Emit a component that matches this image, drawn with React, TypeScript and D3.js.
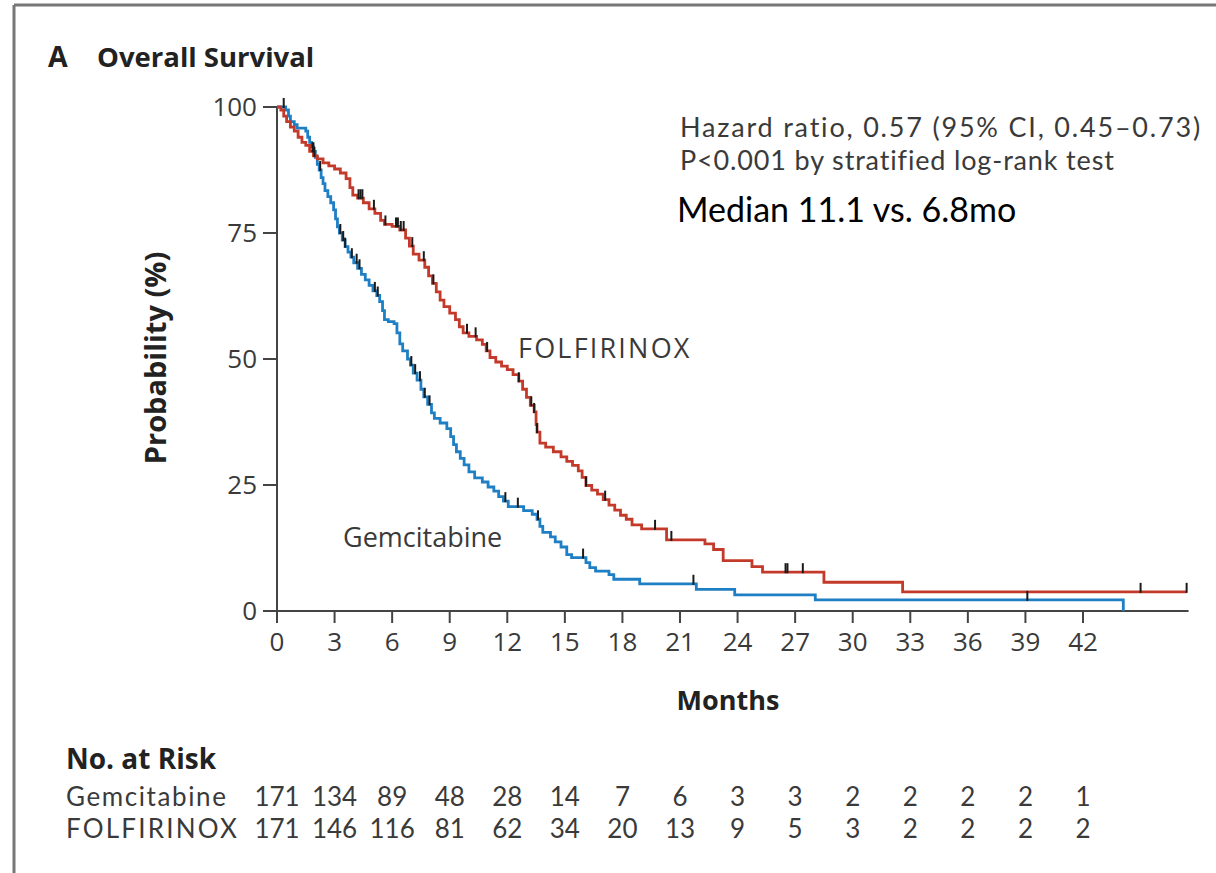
import React, { useEffect } from 'react';
import * as d3 from 'd3';

// Kaplan–Meier overall survival, FOLFIRINOX vs. gemcitabine.
const monthTicks = [0, 3, 6, 9, 12, 15, 18, 21, 24, 27, 30, 33, 36, 39, 42];
const probTicks = [0, 25, 50, 75, 100];

// [month, survival %] at each step of the curve
const folfirinoxSteps: [number, number][] = [
  [0, 100], [0.2, 99.4], [0.35, 98.2], [0.5, 97.1], [0.7, 96.0], [0.9, 95.2],
  [1.1, 94.0], [1.3, 93.0], [1.5, 92.4], [1.7, 91.2], [1.9, 90.3], [2.1, 89.7],
  [2.4, 88.9], [2.7, 88.3], [3.0, 87.7], [3.3, 86.9], [3.6, 85.8], [3.8, 84.0],
  [3.95, 82.5], [4.2, 81.9], [4.5, 81.0], [4.8, 79.8], [5.1, 78.9], [5.4, 77.5],
  [5.6, 76.7], [6.0, 76.3], [6.4, 75.6], [6.7, 74.0], [6.9, 72.4], [7.1, 70.8],
  [7.4, 69.6], [7.7, 68.2], [7.9, 66.5], [8.1, 65.0], [8.3, 63.3], [8.5, 61.7],
  [8.7, 60.4], [9.0, 59.1], [9.3, 57.8], [9.5, 56.4], [9.7, 55.2], [10.0, 54.5],
  [10.4, 53.8], [10.7, 52.9], [10.9, 51.6], [11.1, 50.3], [11.4, 49.4], [11.7, 48.6],
  [12.0, 47.9], [12.3, 46.9], [12.6, 45.6], [12.8, 44.0], [13.0, 42.4], [13.2, 40.8],
  [13.4, 39.5], [13.5, 37.0], [13.55, 35.5], [13.7, 33.3], [14.0, 32.5], [14.4, 31.6],
  [14.8, 30.6], [15.1, 29.7], [15.4, 28.9], [15.7, 27.8], [15.9, 26.5], [16.1, 24.9],
  [16.4, 24.0], [16.7, 23.2], [17.0, 22.1], [17.3, 21.0], [17.6, 20.0], [17.9, 19.0],
  [18.2, 18.2], [18.5, 17.1], [19.0, 16.3], [20.3, 14.1], [22.3, 13.3], [22.75, 12.2],
  [23.25, 10.0], [24.75, 8.8], [25.3, 7.7], [28.5, 5.7], [32.6, 3.8], [47.4, 3.8],
];

const gemcitabineSteps: [number, number][] = [
  [0, 100], [0.45, 99.4], [0.6, 98.2], [0.7, 97.1], [0.9, 96.5], [1.05, 95.8],
  [1.5, 95.2], [1.6, 94.0], [1.7, 93.0], [1.8, 92.1], [1.9, 91.2], [2.0, 90.0],
  [2.1, 88.6], [2.2, 87.5], [2.3, 86.0], [2.4, 84.8], [2.5, 83.4], [2.65, 82.2],
  [2.8, 81.0], [2.95, 79.6], [3.05, 77.8], [3.15, 76.2], [3.25, 75.0], [3.4, 73.6],
  [3.55, 72.3], [3.7, 71.2], [3.85, 70.2], [4.0, 69.1], [4.2, 68.0], [4.4, 66.8],
  [4.6, 65.7], [4.8, 64.6], [5.0, 63.5], [5.2, 62.6], [5.35, 61.4], [5.5, 59.6],
  [5.6, 57.8], [5.8, 57.4], [6.1, 57.0], [6.25, 55.2], [6.4, 53.0], [6.55, 51.6],
  [6.8, 50.0], [6.95, 48.8], [7.1, 47.2], [7.3, 45.8], [7.5, 44.0], [7.65, 42.5],
  [7.85, 41.0], [8.05, 39.3], [8.2, 38.2], [8.5, 37.3], [8.85, 36.2], [9.05, 34.6],
  [9.2, 33.0], [9.35, 31.6], [9.55, 30.3], [9.75, 29.0], [10.0, 27.6], [10.3, 26.4],
  [10.7, 25.6], [11.0, 24.6], [11.3, 23.8], [11.55, 22.7], [11.8, 21.8], [12.05, 20.7],
  [12.85, 19.9], [13.3, 19.2], [13.55, 18.2], [13.7, 16.8], [13.85, 15.6], [14.25, 14.7],
  [14.5, 13.7], [14.8, 12.7], [15.1, 11.2], [15.35, 10.6], [16.1, 9.6], [16.3, 8.6],
  [16.6, 7.9], [17.3, 7.2], [17.55, 6.3], [18.9, 5.4], [21.85, 4.3], [23.85, 3.2],
  [28.05, 2.2], [44.1, 2.2], [44.1, 0],
];

// Censoring times (months)
const folfirinoxCensored = [
  1.85, 1.95, 4.25, 4.35, 4.45, 5.05, 5.65, 6.2, 6.3, 6.45, 6.6, 7.05, 7.65, 8.15,
  9.9, 10.35, 10.95, 12.6, 13.25, 13.4, 13.55, 16.1, 17.1, 19.7, 20.55, 26.5, 26.6,
  27.4, 45.0, 47.4,
];
const gemcitabineCensored = [
  0.35, 1.9, 2.25, 3.3, 3.45, 3.55, 3.9, 4.15, 4.3, 5.1, 5.25, 7.0, 7.2, 7.45, 7.7,
  7.95, 11.9, 12.55, 13.6, 15.95, 21.7, 39.1,
];

const gemcitabineAtRisk = [171, 134, 89, 48, 28, 14, 7, 6, 3, 3, 2, 2, 2, 2, 1];
const folfirinoxAtRisk = [171, 146, 116, 81, 62, 34, 20, 13, 9, 5, 3, 2, 2, 2, 2];

const RED = '#c43a2a';
const BLUE = '#1f7fc4';
const INK = '#3a3a3a';
const FONT = "'Open Sans', Lato, sans-serif";
const TIGHT_FONT = "Lato, 'Open Sans', sans-serif";

const x = d3.scaleLinear().domain([0, 42]).range([277, 1083]);
const y = d3.scaleLinear().domain([0, 100]).range([611, 107]);

const stepLine = d3
  .line<[number, number]>()
  .x((d) => x(d[0]))
  .y((d) => y(d[1]))
  .curve(d3.curveStepAfter);

function survivalAt(steps: [number, number][], t: number): number {
  let s = steps[0][1];
  for (const [m, v] of steps) {
    if (m <= t) s = v;
    else break;
  }
  return s;
}

function Censors({ steps, times }: { steps: [number, number][]; times: number[] }) {
  return (
    <g stroke="#1a1a1a" strokeWidth={2}>
      {times.map((t, i) => {
        const cx = x(t);
        const cy = y(survivalAt(steps, t));
        return <line key={i} x1={cx} x2={cx} y1={cy - 9} y2={cy + 1} />;
      })}
    </g>
  );
}

const ROW_GEM = 806;
const ROW_FOL = 838;

export default function App() {
  useEffect(() => {
    document.body.style.margin = '0';
  }, []);

  const xEnd = x(47.5);

  return (
    <svg
      width={1216}
      height={873}
      viewBox="0 0 1216 873"
      style={{ display: 'block', background: '#fff' }}
      fontFamily={FONT}
    >
      {/* frame */}
      <line x1={14} x2={1216} y1={5} y2={5} stroke="#777" strokeWidth={3} />
      <line x1={14} x2={14} y1={5} y2={873} stroke="#777" strokeWidth={3} />

      {/* panel title */}
      <text x={48} y={67} fontSize={28.5} fontWeight={700} fill="#222">A</text>
      <text x={97} y={67} fontSize={27.5} fontWeight={700} fill="#222">Overall Survival</text>

      {/* y axis */}
      <line x1={x(0)} x2={x(0)} y1={y(100)} y2={y(0)} stroke="#444" strokeWidth={2} />
      {probTicks.map((p) => (
        <g key={p}>
          <line x1={263} x2={x(0)} y1={y(p)} y2={y(p)} stroke="#444" strokeWidth={2} />
          <text x={257} y={y(p)} dy="0.36em" textAnchor="end" fontSize={26} fill={INK}>
            {p}
          </text>
        </g>
      ))}

      {/* x axis */}
      <line x1={x(0)} x2={xEnd} y1={y(0)} y2={y(0)} stroke="#444" strokeWidth={2} />
      {monthTicks.map((m) => (
        <g key={m}>
          <line x1={x(m)} x2={x(m)} y1={y(0)} y2={y(0) + 12} stroke="#444" strokeWidth={2} />
          <text x={x(m)} y={651} textAnchor="middle" fontSize={26} fill={INK}>
            {m}
          </text>
        </g>
      ))}

      <text x={728} y={710} textAnchor="middle" fontSize={27} fontWeight={700} fill="#222">
        Months
      </text>
      <text
        transform="translate(166,358) rotate(-90)"
        textAnchor="middle"
        fontSize={29}
        fontWeight={700}
        fill="#222"
      >
        Probability (%)
      </text>

      {/* survival curves */}
      <path d={stepLine(gemcitabineSteps) ?? ''} fill="none" stroke={BLUE} strokeWidth={2.8} />
      <path d={stepLine(folfirinoxSteps) ?? ''} fill="none" stroke={RED} strokeWidth={2.8} />
      <Censors steps={gemcitabineSteps} times={gemcitabineCensored} />
      <Censors steps={folfirinoxSteps} times={folfirinoxCensored} />

      {/* curve labels */}
      <text x={518} y={358} fontSize={27} letterSpacing={2.2} fill={INK}>FOLFIRINOX</text>
      <text x={343} y={547} fontSize={27} fill={INK}>Gemcitabine</text>

      {/* statistics */}
      <g fontFamily={TIGHT_FONT} fontSize={27} fill={INK}>
        <text x={680} y={137} letterSpacing={1.8}>
          Hazard ratio, 0.57 (95% CI, 0.45–0.73)
        </text>
        <text x={680} y={170} letterSpacing={0.85}>
          P&lt;0.001 by stratified log-rank test
        </text>
      </g>
      <text x={677} y={222} fontSize={34} fontFamily={TIGHT_FONT} fill="#000">
        Median 11.1 vs. 6.8mo
      </text>

      {/* number at risk */}
      <text x={66} y={769} fontSize={28} fontWeight={700} fill="#222">No. at Risk</text>
      <g fontFamily={TIGHT_FONT} fontSize={26} fill={INK}>
        <text x={66} y={ROW_GEM} letterSpacing={1.6}>Gemcitabine</text>
        <text x={66} y={ROW_FOL} letterSpacing={2.2}>FOLFIRINOX</text>
        {monthTicks.map((m, i) => (
          <g key={m}>
            <text x={x(m)} y={ROW_GEM} textAnchor="middle">{gemcitabineAtRisk[i]}</text>
            <text x={x(m)} y={ROW_FOL} textAnchor="middle">{folfirinoxAtRisk[i]}</text>
          </g>
        ))}
      </g>
    </svg>
  );
}
